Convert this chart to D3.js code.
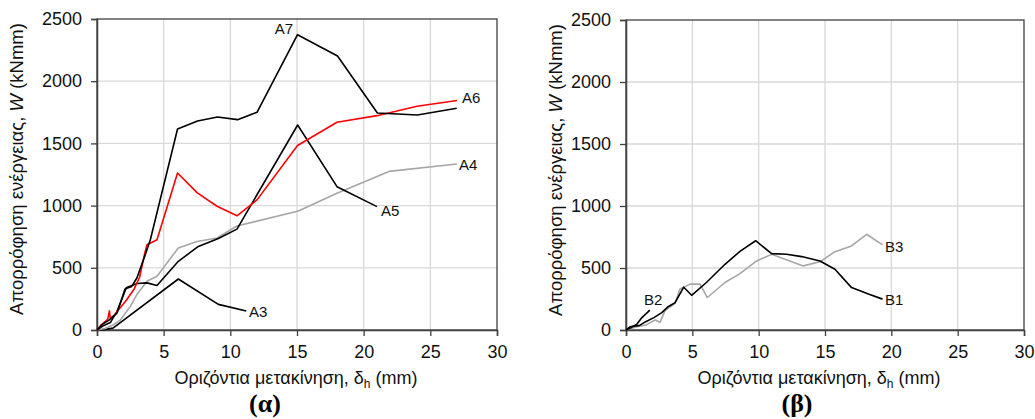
<!DOCTYPE html>
<html>
<head>
<meta charset="utf-8">
<script src="https://cdn.jsdelivr.net/npm/d3@7"></script>
<style>
  body { margin: 0; background: #fff; }
  svg { display: block; font-family: "Liberation Sans", Arial, sans-serif; }
</style>
</head>
<body>
<svg id="chart" width="1035" height="419"></svg>
<script>
// Τιμές διαβασμένες από το διάγραμμα: [δh (mm), W (kNmm)]
const xTicks = [0, 5, 10, 15, 20, 25, 30];
const yTicks = [0, 500, 1000, 1500, 2000, 2500];

const A3 = [[0, 0], [0.5, 3], [1.2, 15], [6.1, 410], [9.1, 206], [11.2, 152]];
const A4 = [[0, 0], [0.6, 12], [1.2, 40], [1.75, 80], [2.5, 190], [3, 286], [3.75, 392], [4.5, 432], [6.1, 660], [7.5, 712], [9, 740], [10.5, 836], [15.1, 957], [18, 1100], [21.9, 1275], [27, 1334]];
const A5 = [[0, 0], [0.4, 30], [1, 60], [1.5, 150], [2.2, 339], [3, 374], [3.75, 379], [4.5, 358], [6.1, 552], [7.6, 672], [9.1, 736], [10.5, 811], [15.05, 1648], [18, 1152], [21, 992]];
const A6 = [[0, 0], [0.3, 40], [0.8, 85], [0.93, 154], [1.0, 93], [1.3, 120], [1.7, 173], [2.2, 239], [2.8, 332], [3.2, 426], [3.57, 612], [3.75, 686], [4.5, 726], [6.04, 1262], [7.5, 1104], [9, 995], [10.5, 918], [12, 1046], [15.04, 1483], [18, 1670], [21, 1723], [24, 1798], [27, 1845]];
const A7 = [[0, 0], [0.4, 45], [0.9, 80], [1.5, 135], [2.1, 330], [2.6, 350], [3, 420], [3.6, 600], [4, 726], [6.04, 1616], [7.54, 1680], [9.04, 1712], [10.54, 1691], [12, 1750], [15.04, 2374], [18.04, 2203], [21.03, 1744], [24.03, 1728], [26.98, 1782]];

const B1 = [[0, 0], [0.3, 25], [0.5, 30], [1, 35], [1.45, 65], [2.1, 100], [2.7, 140], [3.2, 190], [3.7, 220], [4.35, 345], [4.95, 280], [6.08, 385], [7.46, 530], [8.59, 634], [9.77, 720], [10.98, 616], [12.1, 611], [13.24, 592], [14.62, 557], [15.75, 490], [17, 342], [18.27, 290], [19.34, 249]];
const B2 = [[0, 0], [0.4, 20], [0.8, 45], [1.2, 100], [1.8, 160]];
const B3 = [[0, 0], [0.8, 27], [1.56, 43], [2.19, 81], [2.56, 62], [2.94, 156], [3.69, 215], [4.07, 331], [4.82, 370], [5.58, 370], [6.13, 262], [7.46, 383], [8.59, 455], [9.85, 557], [10.98, 610], [13.36, 517], [14.62, 550], [15.75, 632], [17, 678], [18.14, 772], [19.34, 686]];

const panels = [
  {
    left: 97, top: 19, w: 400, h: 311, letter: "(α)", ytx: 23, xtShift: -1, letterShift: -32,
    series: [
      { data: A3, color: "#000", label: "A3", lx: 249, ly: 312, anchor: "start" },
      { data: A4, color: "#a6a6a6", label: "A4", lx: 459, ly: 165, anchor: "start" },
      { data: A5, color: "#000", label: "A5", lx: 381, ly: 211, anchor: "start" },
      { data: A6, color: "#ff0000", label: "A6", lx: 462, ly: 98, anchor: "start" },
      { data: A7, color: "#000", label: "A7", lx: 293, ly: 29, anchor: "end" }
    ]
  },
  {
    left: 626, top: 20, w: 398, h: 310, letter: "(β)", ytx: 562, xtShift: -6, letterShift: -28,
    series: [
      { data: B3, color: "#a6a6a6", label: "B3", lx: 885, ly: 247, anchor: "start" },
      { data: B1, color: "#000", label: "B1", lx: 885, ly: 300, anchor: "start" },
      { data: B2, color: "#000", label: "B2", lx: 644, ly: 300, anchor: "start" }
    ]
  }
];

const svg = d3.select("#chart");

panels.forEach(p => {
  const x = d3.scaleLinear().domain([0, 30]).range([p.left, p.left + p.w]);
  const y = d3.scaleLinear().domain([0, 2500]).range([p.top + p.h, p.top]);
  const g = svg.append("g");

  // πλέγμα
  g.append("g").selectAll("line").data(xTicks.slice(1, -1)).join("line")
    .attr("x1", d => x(d)).attr("x2", d => x(d)).attr("y1", y(0)).attr("y2", y(2500))
    .attr("stroke", "#d9d9d9").attr("stroke-width", 1.3);
  g.append("g").selectAll("line").data(yTicks.slice(1, -1)).join("line")
    .attr("x1", x(0)).attr("x2", x(30)).attr("y1", d => y(d)).attr("y2", d => y(d))
    .attr("stroke", "#d9d9d9").attr("stroke-width", 1.3);

  // πλαίσιο
  g.append("rect").attr("x", x(0)).attr("y", y(2500)).attr("width", p.w).attr("height", p.h)
    .attr("fill", "none").attr("stroke", "#404040").attr("stroke-width", 1.3);

  // άξονες
  const xAxis = g.append("g").attr("transform", `translate(0,${y(0)})`)
    .call(d3.axisBottom(x).tickValues(xTicks).tickFormat(d3.format("d")).tickSize(6).tickPadding(9));
  const yAxis = g.append("g").attr("transform", `translate(${x(0)},0)`)
    .call(d3.axisLeft(y).tickValues(yTicks).tickFormat(d3.format("d")).tickSize(6).tickPadding(9));
  [xAxis, yAxis].forEach(a => {
    a.select(".domain").attr("stroke", "#404040").attr("stroke-width", 1.5);
    a.selectAll(".tick line").attr("stroke", "#404040").attr("stroke-width", 1.3);
    a.selectAll("text").attr("font-size", 18).attr("fill", "#111")
      .attr("font-family", "'Liberation Sans', Arial, sans-serif");
  });

  // καμπύλες
  const line = d3.line().x(d => x(d[0])).y(d => y(d[1]));
  p.series.forEach(s => {
    g.append("path").datum(s.data).attr("d", line)
      .attr("fill", "none").attr("stroke", s.color).attr("stroke-width", 1.6)
      .attr("stroke-linejoin", "round");
    g.append("text").attr("x", s.lx).attr("y", s.ly).attr("dy", "0.35em")
      .attr("text-anchor", s.anchor).attr("font-size", 15).attr("fill", "#111")
      .text(s.label);
  });

  // τίτλοι αξόνων
  const xt = g.append("text").attr("x", p.left + p.w / 2 + p.xtShift).attr("y", 384)
    .attr("text-anchor", "middle").attr("font-size", 18).attr("fill", "#111");
  xt.append("tspan").text("Οριζόντια μετακίνηση, δ");
  xt.append("tspan").attr("font-size", 12).attr("dy", 4).text("h");
  xt.append("tspan").attr("dy", -4).text(" (mm)");

  const yt = g.append("text")
    .attr("transform", `translate(${p.ytx},${p.top + 150}) rotate(-90)`)
    .attr("text-anchor", "middle").attr("font-size", 18.5).attr("fill", "#111");
  yt.append("tspan").text("Απορρόφηση ενέργειας, ");
  yt.append("tspan").attr("font-style", "italic").text("W");
  yt.append("tspan").text("  (kNmm)");

  g.append("text").attr("x", p.left + p.w / 2 + p.letterShift).attr("y", 412)
    .attr("text-anchor", "middle").attr("font-family", "'Liberation Serif', 'Times New Roman', serif")
    .attr("font-weight", "bold").attr("font-size", 26).attr("fill", "#000")
    .text(p.letter);
});
</script>
</body>
</html>
